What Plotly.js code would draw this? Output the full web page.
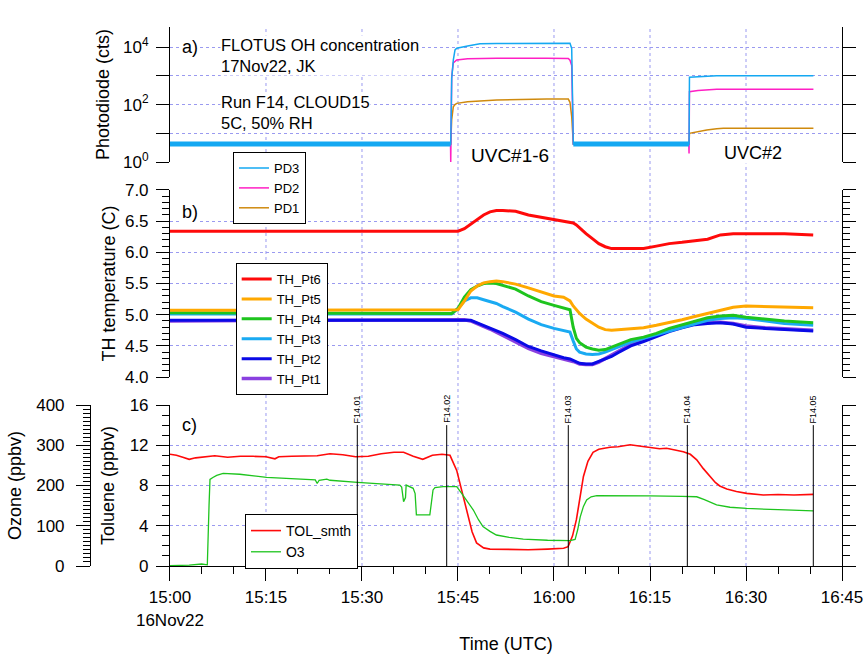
<!DOCTYPE html>
<html><head><meta charset="utf-8">
<script src="https://cdn.plot.ly/plotly-3.0.1.min.js"></script>
<style>html,body{margin:0;padding:0;background:#fff}#chart{width:867px;height:654px}</style>
</head><body><div id="chart"></div>
<script>
// ---------- DATA (time = minutes after 15:00 UTC, 16 Nov 2022) ----------
const pdMin = [0,43.83,43.87,44.02,44.27,44.53,44.8,46.5,48.43,51.05,58.87,62.23,62.5,62.77,63.02,81.07,81.1,81.17,82.5,83.87,85.42,86.47,100.53];
const pd3 = [4.2,4.2,4.2,800,3500,8000,9200,11000,13000,13400,13500,13500,13500,9000,4.2,4.2,4.2,890,940,1000,1010,1010,1010];
const pd2 = [4.2,4.2,1.0,930,2800,3100,3550,3900,4050,4100,4100,4050,3500,2300,4.2,4.2,2.0,280,310,330,338,338,338];
const pd1 = [4.2,4.2,4.2,30,83,100,110,125,135,145,155,155,120,38,4.2,4.2,4.2,10,11.5,13,14.5,15,15];

const thMin = [0,44,45,46,47,48,49,50,51,52,54,56,58,60,61.5,62.5,63,63.5,64,65,66,67,68,69,70,72,74,76,78,80,82,84,86,88,90,93,96,100.5];
const thPt6 = [6.34,6.34,6.34,6.38,6.45,6.53,6.60,6.65,6.67,6.67,6.66,6.60,6.56,6.53,6.50,6.48,6.47,6.44,6.39,6.30,6.22,6.14,6.09,6.06,6.06,6.06,6.06,6.10,6.14,6.16,6.18,6.21,6.28,6.30,6.30,6.30,6.30,6.28];
const thPt5 = [5.07,5.07,5.08,5.22,5.38,5.46,5.51,5.53,5.54,5.53,5.49,5.43,5.36,5.30,5.28,5.22,5.14,5.07,5.02,4.93,4.86,4.80,4.76,4.75,4.76,4.77,4.79,4.83,4.87,4.92,4.97,5.02,5.08,5.12,5.14,5.13,5.12,5.11];
const thPt4 = [5.03,5.02,5.10,5.28,5.40,5.46,5.50,5.51,5.50,5.47,5.41,5.30,5.21,5.15,5.11,5.08,4.80,4.62,4.55,4.48,4.45,4.43,4.44,4.48,4.53,4.60,4.64,4.70,4.78,4.84,4.90,4.95,4.98,4.99,4.96,4.93,4.90,4.87];
const thPt3 = [5.01,5.01,5.10,5.22,5.27,5.27,5.24,5.21,5.18,5.13,5.04,4.93,4.84,4.78,4.75,4.72,4.58,4.45,4.40,4.37,4.36,4.37,4.40,4.44,4.48,4.56,4.62,4.68,4.74,4.80,4.86,4.91,4.94,4.95,4.94,4.90,4.86,4.83];
const thPt2 = [4.91,4.92,4.92,4.92,4.91,4.87,4.83,4.79,4.75,4.70,4.60,4.49,4.42,4.35,4.31,4.29,4.27,4.25,4.22,4.21,4.21,4.25,4.29,4.33,4.39,4.50,4.57,4.65,4.73,4.79,4.84,4.86,4.87,4.85,4.80,4.78,4.76,4.74];
const thPt1 = [4.90,4.93,4.93,4.92,4.90,4.86,4.81,4.77,4.72,4.67,4.57,4.46,4.38,4.33,4.29,4.27,4.25,4.23,4.21,4.20,4.20,4.24,4.30,4.35,4.41,4.52,4.60,4.68,4.76,4.82,4.86,4.88,4.88,4.86,4.82,4.79,4.77,4.75];

const tolMin = [0,1,2,3,4,5,7,9,11,13,15,16.4,17,19,21,23,25,27,29,31,33,35,36.5,38,39.5,41,42.5,43.75,44.8,45.6,46.4,47.2,47.9,49,50,53,56,59,61.5,62.2,62.9,63.5,64.1,64.6,65.3,66.1,67,68.75,70,71.9,73,75,76.5,77.6,79,80.2,81.3,82.3,83.3,84.4,85.2,85.9,87,88.5,90.1,92.7,95,97.5,100.5];
const tolSmth = [11.1,11.0,10.8,10.6,10.75,10.8,10.95,10.8,10.9,10.9,10.85,10.65,10.85,10.9,10.9,10.95,11.15,11.05,10.85,10.9,11.15,11.3,11.3,10.9,10.6,11.0,11.1,11.0,9.5,7.4,5.2,3.4,2.3,1.8,1.68,1.62,1.62,1.68,1.76,1.92,3.0,4.6,6.9,8.9,10.4,11.3,11.6,11.8,11.85,12.05,11.95,11.75,11.65,11.7,11.5,11.35,11.1,10.55,9.7,8.9,8.3,7.95,7.65,7.4,7.22,7.06,7.1,7.05,7.12];

const o3Min = [0,3,4.95,5.5,5.83,6.1,6.25,6.7,7.3,8.3,10.9,15.1,20,22.7,23.0,23.3,24.5,25,29.3,33,35.9,36.2,36.5,36.8,36.9,38.0,38.3,38.5,40.6,41.1,41.4,42.7,44.8,45.6,46.5,47.4,48.2,48.9,50,51,53,55.2,59,62.5,63.3,63.7,64.1,64.6,65.1,65.8,66.7,70,75,80,82.3,83.5,85.4,87.5,90.1,95,100.5];
const o3 = [1,2,5,3,3,150,215,220,225,230,228,220,216,214,205,213,216,213,208,204,201,196,160,170,201,193,180,127,127,189,195,197,197,180,160,139,115,98,86,77,71,67,64,63,66,90,122,148,164,172,175,175,174,173,172,165,152,146,143,140,137];

const eventMin = [29.27,43.23,62.23,80.83,100.52];
const eventLabels = ['F14.01','F14.02','F14.03','F14.04','F14.05'];

const majorTickMin = [0,15,30,45,60,75,90,105];
const minorTickMin = [5,10,20,25,35,40,50,55,65,70,80,85,95,100];
const timeTickText = ['15:00<br>16Nov22','15:15','15:30','15:45','16:00','16:15','16:30','16:45'];
const pdTickVals = [1,100,10000];
const pdTickText = ['10<sup>0</sup>','10<sup>2</sup>','10<sup>4</sup>'];
const pdMinorTickVals = [10,1000];

// ---------- helpers ----------
const FONT = 'Liberation Sans, Arial, Helvetica, sans-serif';
function pad(n){return (n<10?'0':'')+n;}
function tm(m){const s=Math.round(m*60);const h=15+Math.floor(s/3600);const mm=Math.floor((s%3600)/60);const ss=s%60;return '2022-11-16 '+pad(h)+':'+pad(mm)+':'+pad(ss);}
const GRID = '#9a9af0';

function line(name, xm, y, color, width, yaxis, legend){
  return {type:'scatter', mode:'lines', name:name, x:xm.map(tm), y:y, xaxis:'x', yaxis:yaxis,
    line:{color:color, width:width}, legend:legend};
}

const traces = [
  line('PD1', pdMin, pd1, '#cf8a0e', 1.5, 'y', 'legend'),
  line('PD2', pdMin, pd2, '#ff1fc4', 1.5, 'y', 'legend'),
  line('PD3', pdMin, pd3, '#14a8f2', 1.5, 'y', 'legend'),
  Object.assign(line('PD3 baseline', pdMin, pd3.map(v => v < 10 ? v : null), '#14a8f2', 5, 'y', 'legend'), {showlegend:false, connectgaps:false}),
  line('TH_Pt1', thMin, thPt1, '#8a40e0', 3.5, 'y2', 'legend2'),
  line('TH_Pt2', thMin, thPt2, '#0a0ae6', 3, 'y2', 'legend2'),
  line('TH_Pt3', thMin, thPt3, '#1aaaf2', 3, 'y2', 'legend2'),
  line('TH_Pt4', thMin, thPt4, '#1ec41e', 3, 'y2', 'legend2'),
  line('TH_Pt5', thMin, thPt5, '#ffa800', 3, 'y2', 'legend2'),
  line('TH_Pt6', thMin, thPt6, '#ff0a0a', 3, 'y2', 'legend2'),
  line('TOL_smth', tolMin, tolSmth, '#ff0a0a', 1.6, 'y3', 'legend3'),
  line('O3', o3Min, o3, '#1ec41e', 1.3, 'y4', 'legend3')
];

const XDOM = [0.1181, 1];
const TICKFONT = {family:FONT, size:17, color:'#000'};
const TITLEFONT = {family:FONT, size:18, color:'#000'};
const baseTick = {ticks:'outside', tickwidth:1, tickcolor:'#000', showline:true, linecolor:'#000', linewidth:1, zeroline:false,
  tickfont:TICKFONT};

const shapes = [];
majorTickMin.slice(1, -1).forEach(m => shapes.push({type:'line', xref:'x', yref:'paper', x0:tm(m), x1:tm(m), y0:0, y1:1,
  line:{color:GRID, width:1, dash:'dot'}, layer:'below'}));
eventMin.forEach(m => shapes.push({type:'line', xref:'x', yref:'y3', x0:tm(m), x1:tm(m), y0:0, y1:14,
  line:{color:'#000', width:1}, layer:'above'}));

const annotations = [];
eventMin.forEach((m,i) => annotations.push({xref:'x', yref:'y3', x:tm(m), y:14, text:eventLabels[i], textangle:-90,
  showarrow:false, xanchor:'center', yanchor:'bottom', font:{family:FONT, size:9, color:'#000'}}));
function note(text, px, py, size, xanchor){
  // px, py: position in paper fractions
  annotations.push({xref:'paper', yref:'paper', x:px, y:py, text:text, showarrow:false, xanchor:xanchor||'left', yanchor:'middle',
    align:'left', bgcolor:'#fff', borderpad:0, font:{family:FONT, size:size, color:'#000'}});
}
note('a)', 0.1325, 0.963, 18);
note('FLOTUS OH concentration<br>17Nov22, JK', 0.1837, 0.947, 16.5);
note('Run F14, CLOUD15<br>5C, 50% RH', 0.1837, 0.8405, 16.5);
note('b)', 0.1325, 0.6568, 18);
note('c)', 0.1325, 0.2616, 18);
note('UVC#1-6', 0.5643, 0.7625, 19, 'center');
note('UVC#2', 0.8832, 0.7662, 18, 'center');

const legendBase = {bgcolor:'#fff', bordercolor:'#000', borderwidth:1, xanchor:'left', yanchor:'top', traceorder:'reversed',
  tracegroupgap:0, itemwidth:30};

const layout = {
  width:867, height:654, margin:{l:80, r:25, t:27, b:88},
  paper_bgcolor:'#fff', plot_bgcolor:'rgba(0,0,0,0)',
  font:{family:FONT, color:'#000'},
  showlegend:true, hovermode:false,
  xaxis: Object.assign({}, baseTick, {type:'date', domain:XDOM, anchor:'y3', range:[tm(0), tm(105)],
    tickmode:'array', tickvals:majorTickMin.map(tm), ticktext:timeTickText, ticklen:14, showgrid:false, ticklabelstandoff:2,
    minor:{tickmode:'array', tickvals:minorTickMin.map(tm), ticks:'outside', ticklen:7, tickcolor:'#000', showgrid:false},
    title:{text:'Time (UTC)', font:TITLEFONT, standoff:12}}),
  xaxis2: Object.assign({}, baseTick, {type:'date', domain:XDOM, anchor:'y', side:'top', matches:'x', range:[tm(0), tm(105)],
    tickmode:'array', tickvals:majorTickMin.map(tm), ticklen:13, showticklabels:false, showgrid:false,
    minor:{tickmode:'array', tickvals:minorTickMin.map(tm), ticks:'outside', ticklen:6, tickcolor:'#000', showgrid:false}}),
  yaxis: Object.assign({}, baseTick, {type:'log', domain:[0.7495, 1], anchor:'x', range:[0, 4.7],
    tickmode:'array', tickvals:pdTickVals, ticktext:pdTickText, ticklabelstandoff:4,
    ticklen:13, mirror:'ticks', showgrid:true, gridcolor:GRID, griddash:'dot', gridwidth:1,
    minor:{tickmode:'array', tickvals:pdMinorTickVals, ticks:'outside', ticklen:13, tickcolor:'#000',
      showgrid:true, gridcolor:GRID, griddash:'dot', gridwidth:1},
    title:{text:'Photodiode (cts)', font:TITLEFONT, standoff:8}}),
  yaxis2: Object.assign({}, baseTick, {domain:[0.3506, 0.6976], anchor:'x', range:[4, 7], dtick:0.5, tick0:0, tickformat:'.1f',
    ticklen:13, mirror:'ticks', showgrid:true, gridcolor:GRID, griddash:'dot', gridwidth:1, ticklabelstandoff:4,
    minor:{dtick:0.1, tick0:0, ticks:'outside', ticklen:7, tickcolor:'#000', showgrid:false},
    title:{text:'TH temperature (C)', font:TITLEFONT, standoff:4}}),
  yaxis3: Object.assign({}, baseTick, {domain:[0, 0.2987], anchor:'x', range:[0, 16], dtick:4, tick0:0,
    ticklen:13, mirror:'ticks', showgrid:true, gridcolor:GRID, griddash:'dot', gridwidth:1, ticklabelstandoff:4,
    minor:{dtick:1, tick0:0, ticks:'outside', ticklen:7, tickcolor:'#000', showgrid:false},
    title:{text:'Toluene (ppbv)', font:TITLEFONT, standoff:10}}),
  yaxis4: Object.assign({}, baseTick, {overlaying:'y3', anchor:'free', position:0.0131, side:'left', range:[0, 400], dtick:100, tick0:0,
    ticklen:14, showgrid:false, ticklabelstandoff:8,
    minor:{dtick:10, tick0:0, ticks:'outside', ticklen:7, tickcolor:'#000', showgrid:false},
    title:{text:'Ozone (ppbv)', font:TITLEFONT, standoff:8}}),
  legend: Object.assign({}, legendBase, {x:0.2008, y:0.768, font:{family:FONT, size:13, color:'#000'}}),
  legend2: Object.assign({}, legendBase, {x:0.2043, y:0.562, font:{family:FONT, size:13, color:'#000'}}),
  legend3: Object.assign({}, legendBase, {x:0.2165, y:0.0965, font:{family:FONT, size:14, color:'#000'}, traceorder:'normal'}),
  shapes:shapes, annotations:annotations
};

Plotly.newPlot('chart', traces, layout, {displayModeBar:false, staticPlot:true});
</script></body></html>
